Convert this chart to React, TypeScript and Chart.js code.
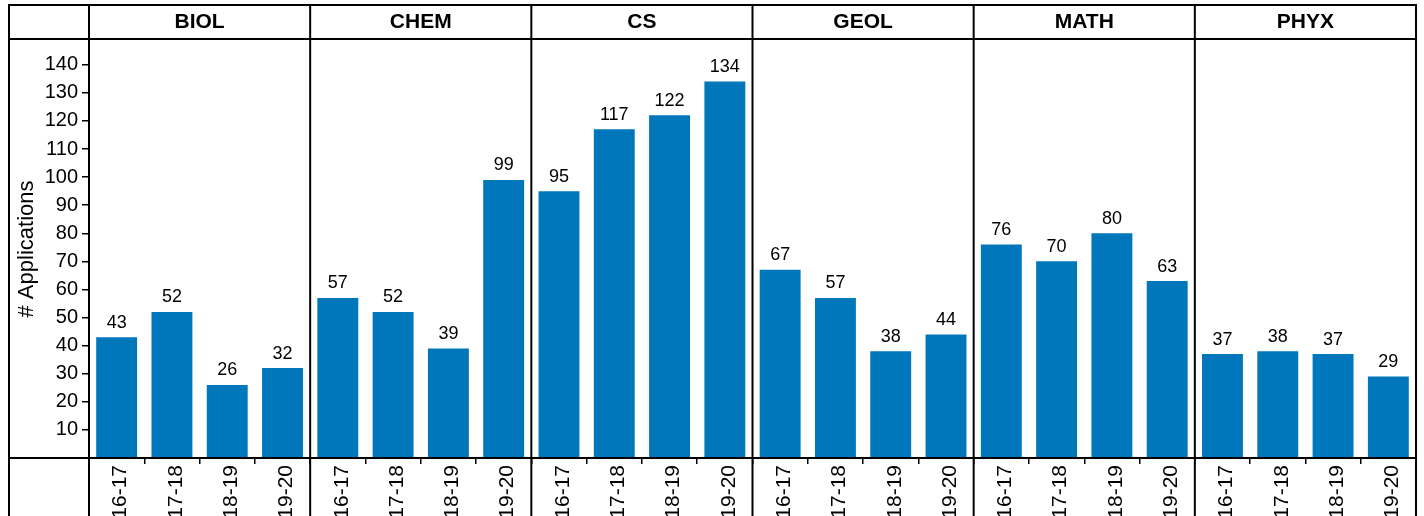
import React, { useEffect, useRef } from 'react';
import { Chart, registerables } from 'chart.js';

Chart.register(...registerables);

const departments = ['BIOL', 'CHEM', 'CS', 'GEOL', 'MATH', 'PHYX'];
const years = ['16-17', '17-18', '18-19', '19-20'];
const biol = [43, 52, 26, 32];
const chem = [57, 52, 39, 99];
const cs = [95, 117, 122, 134];
const geol = [67, 57, 38, 44];
const math = [76, 70, 80, 63];
const phyx = [37, 38, 37, 29];
const yTicks = [10, 20, 30, 40, 50, 60, 70, 80, 90, 100, 110, 120, 130, 140];
const yMax = 148.8;

const FONT = '"Liberation Sans", Arial, Helvetica, sans-serif';
const BAR_COLOR = '#0077BB';

const series = [biol, chem, cs, geol, math, phyx];
const values: number[] = series.flat();
const labels: string[] = departments.flatMap(() => years);

const framePlugin = {
  id: 'frame',
  afterDraw(chart: any) {
    const { ctx, chartArea: a } = chart;
    const xs = chart.scales.x;
    const meta = chart.getDatasetMeta(0);
    const top = 5;
    const bottom = chart.height;
    const left = 9;
    const n = years.length;
    const bounds: number[] = [a.left];
    for (let k = 1; k < departments.length; k++) {
      bounds.push((xs.getPixelForValue(k * n - 1) + xs.getPixelForValue(k * n)) / 2);
    }
    bounds.push(a.right);

    ctx.save();
    ctx.strokeStyle = '#000';
    ctx.lineWidth = 2;
    ctx.beginPath();
    [left, ...bounds].forEach((bx) => {
      ctx.moveTo(bx, top);
      ctx.lineTo(bx, bottom);
    });
    [top, a.top - 1, a.bottom].forEach((by) => {
      ctx.moveTo(left - 1, by);
      ctx.lineTo(a.right + 1, by);
    });
    ctx.stroke();

    ctx.fillStyle = '#000';
    ctx.textAlign = 'center';
    ctx.textBaseline = 'middle';
    ctx.font = `bold 21px ${FONT}`;
    departments.forEach((d, k) => {
      const cx = (bounds[k] + bounds[k + 1]) / 2;
      ctx.fillText(d, cx, (top + a.top) / 2);
    });

    ctx.font = `18px ${FONT}`;
    ctx.textBaseline = 'alphabetic';
    meta.data.forEach((bar: any, i: number) => {
      ctx.fillText(String(values[i]), bar.x, bar.y - 9.5);
    });
    ctx.restore();
  },
};

export default function App() {
  const ref = useRef<HTMLCanvasElement>(null);

  useEffect(() => {
    if (!ref.current) return;
    const chart = new Chart(ref.current, {
      type: 'bar',
      data: {
        labels,
        datasets: [
          {
            data: values,
            backgroundColor: BAR_COLOR,
            borderWidth: 0,
            categoryPercentage: 1,
            barPercentage: 0.74,
          },
        ],
      },
      options: {
        responsive: false,
        animation: false,
        devicePixelRatio: 1,
        color: '#000',
        layout: { padding: { top: 40, right: 8, left: 0, bottom: 0 } },
        plugins: {
          legend: { display: false },
          tooltip: { enabled: false },
        },
        scales: {
          x: {
            type: 'category',
            offset: true,
            afterFit: (s: any) => {
              s.height = 58;
            },
            border: { display: false },
            grid: {
              offset: true,
              drawOnChartArea: false,
              drawTicks: true,
              tickLength: 6,
              color: '#000',
              lineWidth: 1.5,
            },
            ticks: {
              autoSkip: false,
              minRotation: 90,
              maxRotation: 90,
              padding: 1,
              labelOffset: 4,
              color: '#000',
              font: { family: FONT, size: 21 },
            },
          },
          y: {
            min: 0,
            max: yMax,
            afterFit: (s: any) => {
              s.width = 89;
            },
            afterBuildTicks: (s: any) => {
              s.ticks = yTicks.map((v) => ({ value: v }));
            },
            border: { display: false },
            grid: {
              drawOnChartArea: false,
              drawTicks: true,
              tickLength: 7,
              color: '#000',
              lineWidth: 1.5,
            },
            ticks: {
              padding: 4,
              color: '#000',
              font: { family: FONT, size: 20 },
            },
            title: {
              display: true,
              text: '# Applications',
              color: '#000',
              font: { family: FONT, size: 22 },
              padding: { top: 14, bottom: 0 },
            },
          },
        },
      },
      plugins: [framePlugin],
    } as any);
    return () => chart.destroy();
  }, []);

  return (
    <div style={{ position: 'fixed', left: 0, top: 0, width: 1424, height: 516, background: '#fff' }}>
      <canvas ref={ref} width={1424} height={516} style={{ display: 'block' }} />
    </div>
  );
}
